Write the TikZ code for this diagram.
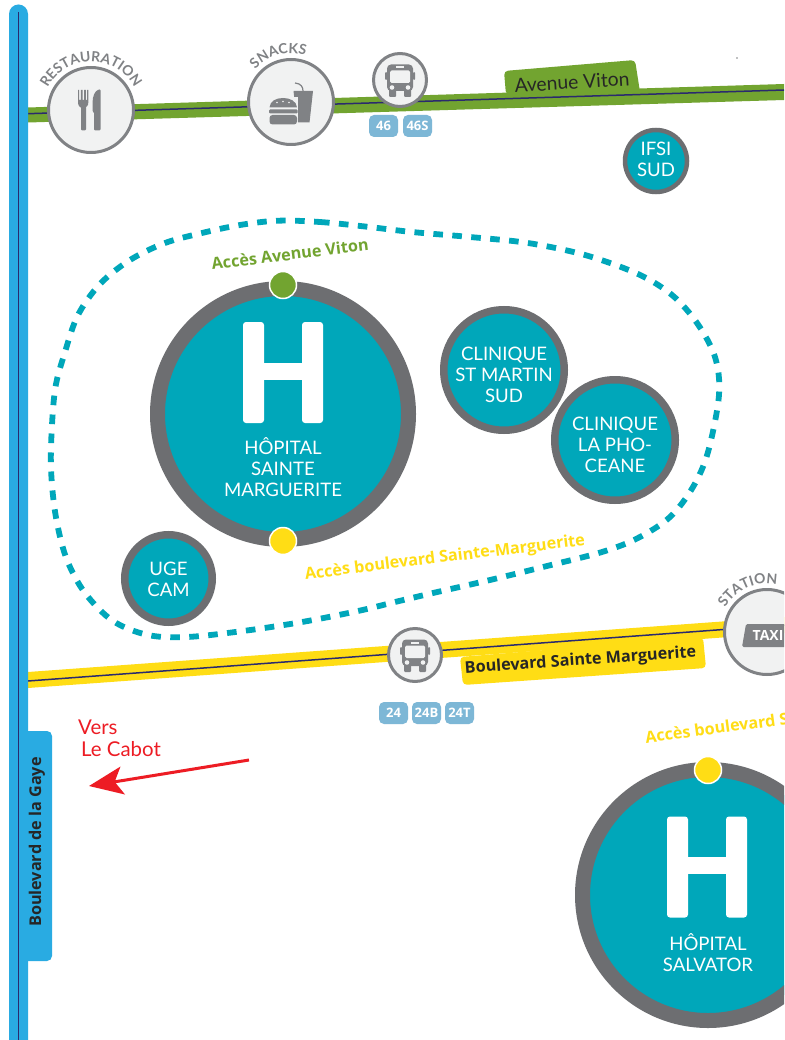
\documentclass[tikz,border=0pt]{standalone}
\usepackage{fontspec}
\setmainfont{Lato}
\newfontfamily\boldf{Open Sans}
\usetikzlibrary{decorations.text,arrows.meta,calc}
\definecolor{teal1}{HTML}{00A7BA}
\definecolor{ring}{HTML}{6D6E71}
\definecolor{icon}{HTML}{808285}
\definecolor{pale}{HTML}{F1F2F2}
\definecolor{road1}{HTML}{72A430}
\definecolor{road2}{HTML}{FFDD15}
\definecolor{road3}{HTML}{29ABE2}
\definecolor{ink}{HTML}{2A2A6E}
\definecolor{badge}{HTML}{7DB7D6}
\definecolor{redc}{HTML}{ED1C24}
\tikzset{
 place/.style={circle,draw=ring,fill=teal1,inner sep=0pt},
 placetext/.style={text=white,align=center,inner sep=0pt,font=\fontsize{18.6}{21}\selectfont},
 poi/.style={circle,draw=icon,fill=pale,line width=3pt,inner sep=0pt},
 badgebox/.style={fill=badge,rounded corners=5pt,minimum width=29pt,minimum height=22pt,inner sep=0pt,text=white,font=\boldf\bfseries\fontsize{13}{13}\selectfont},
 acc/.style={circle,draw=white,line width=1.5pt,minimum size=27pt,inner sep=0pt},
 axis/.style={draw=ink,line width=1.5pt},
 roadtext/.style={text=black!85,inner sep=0pt,font=\boldf\bfseries\fontsize{16.2}{16}\selectfont},
 acctext/.style={inner sep=0pt,font=\boldf\bfseries\fontsize{16.2}{16}\selectfont},
 redtext/.style={text=redc,inner sep=0pt,anchor=west,font=\fontsize{20.4}{20}\selectfont},
 arclabel/.style={decorate,decoration={text along path,text align=center,text color=icon,text format delimiters={|}{|},text={|\bfseries\fontsize{14}{14}\selectfont|#1}}},
}
\newcommand{\busicon}[1]{%
 \begin{scope}[shift={(#1)}]
  \fill[icon,rounded corners=4pt] (-13,-15.5) rectangle (13,11);
  \fill[icon,rounded corners=1pt] (-11,8) rectangle (-4,17) (4,8) rectangle (11,17);
  \fill[icon,rounded corners=1pt] (-15,-8) rectangle (-13,0) (13,-8) rectangle (15,0);
  \fill[pale,rounded corners=1.5pt] (-10,-9.5) rectangle (10,3);
  \fill[pale] (-4,-13.5) rectangle (4,-11.5);
  \fill[pale] (-8,7.5) circle (2.3) (8,7.5) circle (2.3);
 \end{scope}}
\newcommand{\hicon}[1]{%
 \begin{scope}[shift={(#1)}]
  \fill[white,rounded corners=3pt] (-40,-50.5) rectangle (-19,50.5);
  \fill[white,rounded corners=3pt] (19,-50.5) rectangle (40,50.5);
  \fill[white] (-20,-10) rectangle (20,7);
 \end{scope}}
\begin{document}
\begin{tikzpicture}[x=1pt,y=-1pt]
\clip (0,0) rectangle (784,1040);
\fill[white] (0,0) rectangle (784,1040);
% roads
\fill[road1] (28,107.5) -- (784,84) -- (784,100) -- (28,122.5) -- cycle;
\fill[road1,rounded corners=4pt] (506,95) -- (504,71) -- (635,60) -- (640,92) -- cycle;
\draw[axis] (28,113.7) -- (784,90);
\node[text=black!85,inner sep=0pt,rotate=3.6,font=\fontsize{19.3}{19}\selectfont] (viton) at (572,82) {Avenue Viton};
\fill[road2] (28,672) -- (784,617) -- (784,633) -- (28,688) -- cycle;
\draw[axis] (28,681) -- (784,625);
\fill[road2,rounded corners=4pt] (460,657) -- (703,637) -- (706,668) -- (463,685) -- cycle;
\node[roadtext,rotate=4] (stmarg) at (580.5,661) {Boulevard Sainte Marguerite};
\fill[road3,rounded corners=5pt] (20,731) -- (52,731) -- (52,961) -- (20,961) -- cycle;
\fill[road3] (9,14) arc (180:360:9.5) -- (28,1040) -- (9,1040) -- cycle;
\draw[draw=ink,line width=1pt] (18.3,12) -- (18.3,1040);
\node[roadtext,rotate=90] (gaye) at (37,842) {Boulevard de la Gaye};
% enclosing dashed line
\draw[teal1,line width=5.8pt,dash pattern=on 9.6pt off 9.4pt]
 plot[smooth cycle,tension=0.55] coordinates {(278,220.7) (320,222) (365,226.5) (412,232) (470,237) (528,243) (585,255) (638,274) (672,295) (697,323) (715,357) (719,395) (708,452) (693,487) (670,517) (638,538) (602,552) (547,566) (490,580) (433,593) (395,602) (358,611) (302,622) (243,631) (187,637) (148,635) (113,621) (85,593) (67,560) (57,523) (52,485) (51,447) (55,390) (65,352) (78,315) (100,284) (130,260) (165,243) (202,233) (240,225)};
% hospital 1
\node[place,line width=15pt,minimum size=251pt] (hsm) at (283,414) {};
\hicon{283,372.5}
\node[placetext] (hsmt) at (283,467) {HÔPITAL\\SAINTE\\MARGUERITE};
\node[acc,fill=road1] (a1) at (283,285) {};
\node[acc,fill=road2] (a2) at (283,541) {};
\node[acctext,text=road1,rotate=7] (a1t) at (290,254) {Accès Avenue Viton};
\node[acctext,text=road2,rotate=7] (a2t) at (445,558) {Accès boulevard Sainte-Marguerite};
% clinics
\node[place,line width=7.5pt,minimum size=120.5pt] (csm) at (504,370) {};
\node[placetext] (csmt) at (504,375) {CLINIQUE\\ST MARTIN\\SUD};
\node[place,line width=7.5pt,minimum size=120.5pt] (clp) at (615,440) {};
\node[placetext] (clpt) at (615,444.5) {CLINIQUE\\LA PHO-\\CEANE};
\node[place,line width=7.5pt,minimum size=87.5pt] (uge) at (168.5,578.5) {};
\node[placetext] (uget) at (168.5,579.5) {UGE\\CAM};
\node[place,line width=4.5pt,minimum size=62pt] (ifsi) at (656,161) {};
\node[placetext] (ifsit) at (656,159.5) {IFSI\\SUD};
% restaurant
\node[poi,minimum size=85pt] (rest) at (91,110) {};
\path[arclabel=RESTAURATION] (rest.center)+(-155:48.5) arc (-155:-25:48.5);
\fill[icon,rounded corners=1pt] (81,106) rectangle (86,130.5);
\fill[icon] (78,90) -- (79.2,90) -- (79.2,100) -- (80.8,100) -- (80.8,90) -- (82.5,90) -- (82.5,100) -- (84.2,100) -- (84.2,90) -- (85.8,90) -- (85.8,100) -- (87.2,100) -- (87.2,90) -- (88.4,90) -- (88.4,102) .. controls (88.4,106) and (86,108) .. (83.2,108) .. controls (80,108) and (78,106) .. (78,102) -- cycle;
\fill[icon,rounded corners=1pt] (94,130.5) -- (94,112) -- (92.5,112) -- (92.5,104) .. controls (92.5,96) and (95,91) .. (99,89.5) -- (100.5,89.5) -- (100.5,130.5) -- cycle;
% snacks
\node[poi,minimum size=85pt] (snack) at (291,102) {};
\path[arclabel=SNACKS] (snack.center)+(-140:48.5) arc (-140:-70:48.5);
\fill[icon] (293.5,91) -- (313,91) -- (309.5,122.5) -- (297,122.5) -- cycle;
\draw[icon,line width=1.2pt] (303,91) .. controls (303,87) and (301,83.5) .. (295,83);
\fill[pale] (291,97) rectangle (298.2,124);
\fill[icon] (269.5,107.5) .. controls (270,101) and (276,98) .. (283,98) .. controls (290,98) and (296.5,101) .. (297,107.5) -- cycle;
\fill[icon,rounded corners=1pt] (269,109.5) rectangle (297.5,113.5);
\fill[icon,rounded corners=3pt] (269.5,115) rectangle (297,124.5);
\fill[pale] (277,102.5) circle (0.8) (283,101.5) circle (0.8) (289,102.5) circle (0.8);
% bus stops
\node[poi,minimum size=53pt] (bus1) at (400,80) {};
\busicon{400,80}
\node[poi,minimum size=53pt] (bus2) at (415,655) {};
\busicon{415,655}
\node[badgebox] (b46) at (383.5,126) {46};
\node[badgebox] (b46s) at (417.5,126) {46S};
\node[badgebox] (b24) at (393.5,713) {24};
\node[badgebox] (b24b) at (426.5,713) {24B};
\node[badgebox] (b24t) at (459.5,713) {24T};
% taxi
\node[poi,minimum size=85pt] (taxi) at (767,632) {};
\path[arclabel=STATION] (taxi.center)+(-150:48.5) arc (-150:-78:48.5);
\fill[icon,rounded corners=1.5pt] (742,647) -- (746,624) -- (790,624) -- (790,647) -- cycle;
\node[text=white,inner sep=0pt,font=\boldf\bfseries\fontsize{14}{14}\selectfont] (taxit) at (768,635.5) {TAXI};
% hospital 2
\node[place,line width=15pt,minimum size=251pt] (hsv) at (708,895) {};
\hicon{707,867}
\node[placetext] (hsvt) at (708,953) {HÔPITAL\\SALVATOR};
\node[acc,fill=road2] (a3) at (708,770) {};
\node[acctext,text=road2,rotate=7.5,anchor=west] (a3t) at (645,737) {Accès boulevard S};
% Le Cabot
\node[redtext] (vers) at (78,727) {Vers};
\node[redtext] (cabot) at (81,749) {Le Cabot};
\coordinate (arrs) at (249,760);
\coordinate (arre) at (89,786);
\draw[redc,line width=3pt,-{Stealth[length=34pt,width=28pt,inset=8pt]}] (arrs) -- (arre);
\fill[icon] (737,58) circle (0.8);
\end{tikzpicture}
\end{document}
